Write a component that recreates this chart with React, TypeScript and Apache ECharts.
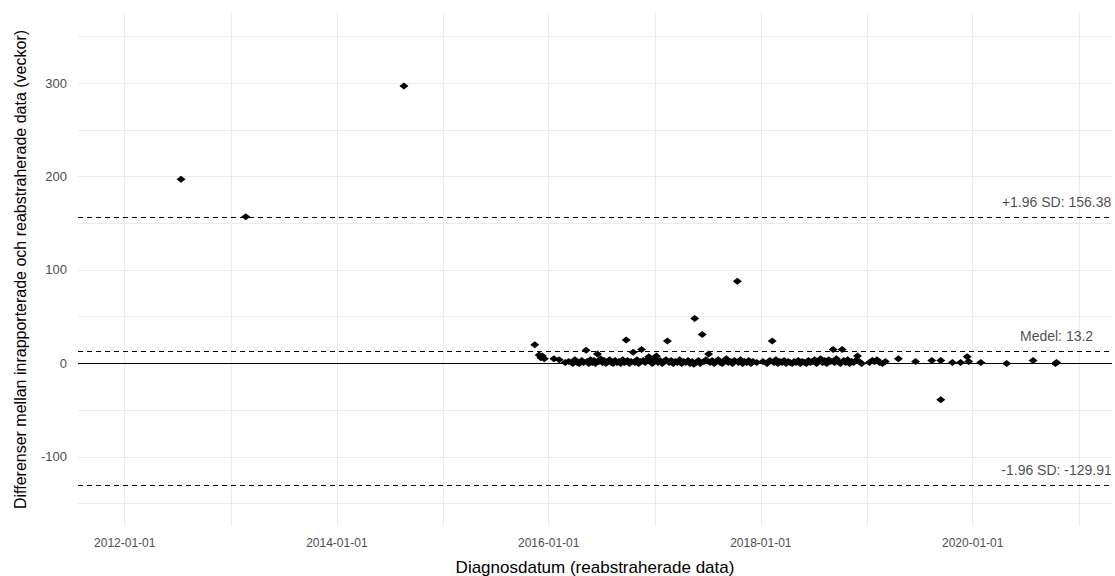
import { useEffect, useRef } from "react";
import * as echarts from "echarts";

// Diagnosis date of each case and the difference (weeks) between the
// registered and the re-abstracted value.
const diagnosisDates: string[] = [
  "2012-07-13", "2013-02-21", "2014-08-20",
  "2015-11-14", "2015-11-29", "2015-12-05", "2015-12-10", "2015-12-17",
  "2016-01-19", "2016-02-06", "2016-02-27", "2016-03-10", "2016-03-24", "2016-03-31",
  "2016-04-08", "2016-04-15", "2016-04-24", "2016-04-30", "2016-05-09", "2016-05-12",
  "2016-05-18", "2016-05-24", "2016-05-30", "2016-06-05", "2016-06-10", "2016-06-17",
  "2016-06-22", "2016-06-28", "2016-07-04", "2016-07-10", "2016-07-16", "2016-07-22",
  "2016-07-29", "2016-08-04", "2016-08-10", "2016-08-17", "2016-08-23", "2016-08-30",
  "2016-09-05", "2016-09-12", "2016-09-18", "2016-09-24", "2016-09-29", "2016-10-05",
  "2016-10-11", "2016-10-18", "2016-10-24", "2016-10-31", "2016-11-06", "2016-11-11",
  "2016-11-16", "2016-11-22", "2016-11-28", "2016-12-04", "2016-12-11", "2016-12-17",
  "2016-12-23", "2016-12-30",
  "2017-01-06", "2017-01-12", "2017-01-19", "2017-01-26", "2017-02-02", "2017-02-08",
  "2017-02-13", "2017-02-19", "2017-02-26", "2017-03-05", "2017-03-12", "2017-03-19",
  "2017-03-27", "2017-04-03", "2017-04-10", "2017-04-17", "2017-04-25", "2017-05-02",
  "2017-05-09", "2017-05-15", "2017-05-18", "2017-05-24", "2017-05-31", "2017-06-06",
  "2017-06-13", "2017-06-19", "2017-06-26", "2017-07-05", "2017-07-10", "2017-07-17",
  "2017-07-24", "2017-07-31", "2017-08-07", "2017-08-14", "2017-08-21", "2017-08-28",
  "2017-09-04", "2017-09-11", "2017-09-18", "2017-09-25", "2017-10-02", "2017-10-12",
  "2017-10-16", "2017-10-23", "2017-10-30", "2017-11-06", "2017-11-13", "2017-11-20",
  "2017-11-28", "2017-12-05", "2017-12-18",
  "2018-01-08", "2018-01-22", "2018-02-01", "2018-02-09", "2018-02-15", "2018-02-22",
  "2018-03-01", "2018-03-08", "2018-03-15", "2018-03-22", "2018-03-29", "2018-04-05",
  "2018-04-12", "2018-04-19", "2018-04-26", "2018-05-03", "2018-05-10", "2018-05-17",
  "2018-05-24", "2018-05-31", "2018-06-07", "2018-06-14", "2018-06-21", "2018-06-28",
  "2018-07-05", "2018-07-12", "2018-07-19", "2018-07-26", "2018-08-02", "2018-08-09",
  "2018-08-16", "2018-08-23", "2018-08-30", "2018-09-07", "2018-09-12", "2018-09-18",
  "2018-09-25", "2018-10-02", "2018-10-08", "2018-10-14", "2018-10-20", "2018-10-27",
  "2018-11-03", "2018-11-10", "2018-11-17", "2018-11-24", "2018-11-30", "2018-12-06",
  "2018-12-14",
  "2019-01-10", "2019-01-20", "2019-01-28", "2019-02-05", "2019-02-14", "2019-02-24",
  "2019-03-06", "2019-04-20", "2019-06-18", "2019-08-13", "2019-09-13", "2019-09-13",
  "2019-10-23", "2019-11-20", "2019-12-13", "2019-12-18",
  "2020-01-29", "2020-04-27", "2020-07-27", "2020-10-12", "2020-10-16",
];

const differences: number[] = [
  197, 157, 297,
  20, 9, 6, 8, 5,
  5, 4, 1, 2, 0, 4,
  1, 0, 3, 1, 14, 2,
  0, 4, 1, 3, 0, 10,
  2, 5, 1, 3, 0, 2,
  4, 1, 0, 3, 1, 2,
  0, 4, 1, 25, 3, 0,
  2, 12, 1, 4, 0, 2,
  15, 3, 1, 4, 7, 2,
  0, 5,
  8, 1, 3, 0, 2, 4,
  24, 1, 3, 0, 2, 1,
  4, 0, 2, 1, 3, 0,
  2, -1, 48, 1, 3, 0,
  31, 2, 4, 10, 1, 3,
  0, 2, 4, 1, 0, 3,
  5, 1, 2, 0, 3, 88,
  1, 4, 0, 2, 1, 3,
  0, 2, 1,
  2, 0, 3, 24, 1, 4,
  0, 2, 1, 3, 0, 2,
  1, 0, 2, 1, 3, 0,
  2, 1, 0, 3, 1, 2,
  4, 0, 2, 5, 1, 3,
  0, 4, 2, 15, 1, 5,
  2, 0, 15, 3, 1, 4,
  0, 2, 1, 3, 8, 2,
  0,
  1, 3, 2, 4, 1, 0,
  2, 5, 2, 3, 3, -39,
  1, 1, 7, 2,
  1, 0, 3, 0, 1,
];

// Limits of agreement and mean difference
const MEAN_DIFF = 13.2;
const UPPER_LOA = 156.38;
const LOWER_LOA = -129.91;

const limitLines = [
  { value: UPPER_LOA, text: `+1.96 SD: ${UPPER_LOA}` },
  { value: MEAN_DIFF, text: `Medel: ${MEAN_DIFF}` },
  { value: LOWER_LOA, text: `-1.96 SD: ${LOWER_LOA}` },
];

// Axis grid and label positions
const gridYears = [2012, 2013, 2014, 2015, 2016, 2017, 2018, 2019, 2020, 2021];
const labelledYears = [2012, 2014, 2016, 2018, 2020];
const yGridValues = [-150, -100, -50, 0, 50, 100, 150, 200, 250, 300, 350];
const yLabelValues = [-100, 0, 100, 200, 300];

const X_START = "2011-07-24";
const X_END = "2021-04-25";
const Y_MIN = -174;
const Y_MAX = 375;

const FONT = "'Liberation Sans', Arial, sans-serif";

const toTime = (d: string) => Date.parse(d + "T00:00:00Z");
const yearStart = (y: number) => Date.UTC(y, 0, 1);
const pad = (n: number) => String(n).padStart(2, "0");
const formatDate = (t: number) => {
  const d = new Date(t);
  return `${d.getUTCFullYear()}-${pad(d.getUTCMonth() + 1)}-${pad(d.getUTCDate())}`;
};

export default function App() {
  const ref = useRef<HTMLDivElement>(null);

  useEffect(() => {
    if (!ref.current) return;
    const chart = echarts.init(ref.current, undefined, { renderer: "svg" });

    const points = diagnosisDates.map((d, i) => [toTime(d), differences[i]]);
    const lastDate = Math.max(...diagnosisDates.map(toTime));

    chart.setOption({
      animation: false,
      backgroundColor: "#ffffff",
      grid: { left: 78, right: 3, top: 13, bottom: 50, outerBoundsMode: "none" },
      xAxis: {
        type: "value",
        min: toTime(X_START),
        max: toTime(X_END),
        axisLine: { show: false },
        axisTick: { show: false, customValues: gridYears.map(yearStart) },
        axisLabel: {
          customValues: labelledYears.map(yearStart),
          formatter: (v: number) => formatDate(v),
          color: "#4D4D4D",
          fontSize: 12,
          fontFamily: FONT,
          margin: 11,
        },
        splitLine: { show: true, lineStyle: { color: "#EBEBEB", width: 1 } },
        name: "Diagnosdatum (reabstraherade data)",
        nameLocation: "middle",
        nameGap: 33,
        nameTextStyle: { color: "#000000", fontSize: 17, fontFamily: FONT },
      },
      yAxis: {
        type: "value",
        min: Y_MIN,
        max: Y_MAX,
        axisLine: { show: false },
        axisTick: { show: false, customValues: yGridValues },
        axisLabel: {
          customValues: yLabelValues,
          color: "#4D4D4D",
          fontSize: 13,
          fontFamily: FONT,
          margin: 11,
        },
        splitLine: { show: true, lineStyle: { color: "#EBEBEB", width: 1 } },
        name: "Differenser mellan inrapporterade och reabstraherade data (veckor)",
        nameLocation: "middle",
        nameGap: 50,
        nameTextStyle: { color: "#000000", fontSize: 16, fontFamily: FONT },
      },
      series: [
        {
          name: "Differens",
          type: "scatter",
          data: points,
          symbol: "diamond",
          symbolSize: [9, 7],
          itemStyle: { color: "#000000", opacity: 1 },
          z: 3,
          markLine: {
            silent: true,
            symbol: "none",
            label: { show: false },
            data: [
              { yAxis: 0, lineStyle: { color: "#000000", type: "solid", width: 1 } },
              ...limitLines.map((l) => ({
                yAxis: l.value,
                lineStyle: { color: "#000000", type: [5, 4], width: 1 },
              })),
            ],
          },
        },
        {
          name: "Gränser",
          type: "scatter",
          symbolSize: 0,
          silent: true,
          data: limitLines.map((l) => ({
            value: [lastDate, l.value],
            label: { formatter: l.text },
          })),
          label: {
            show: true,
            position: "top",
            distance: 8,
            color: "#1A1A1A",
            fontSize: 14,
            fontFamily: FONT,
          },
        },
      ],
    });

    return () => chart.dispose();
  }, []);

  return (
    <div
      ref={ref}
      style={{ position: "absolute", left: 0, top: 0, width: 1115, height: 576 }}
    />
  );
}
